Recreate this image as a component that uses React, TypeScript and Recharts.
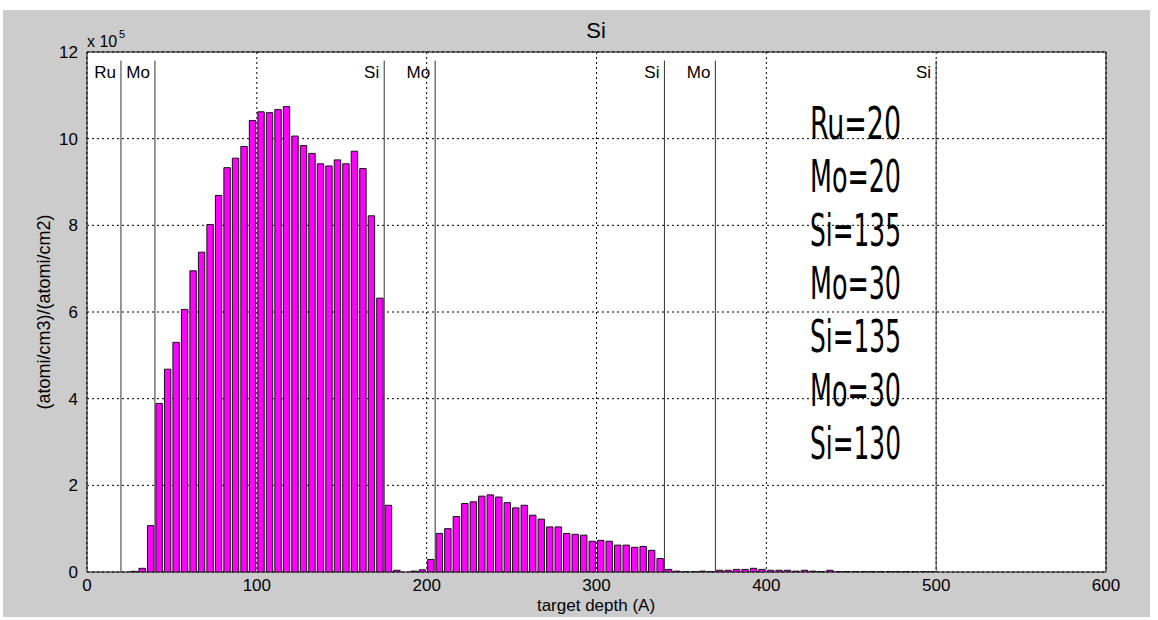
import { BarChart, Bar, XAxis, YAxis, CartesianGrid, ReferenceLine, ReferenceArea } from "recharts";

const FONT = '"Liberation Sans", Arial, sans-serif';
const BIN_WIDTH = 5; // Å per histogram bin

// Si per 5 Å bin, in units of 1e5 (atomi/cm3)/(atomi/cm2); null = empty bin
const siCounts: (number | null)[] = [
  null, null, null, null, null, 0.015, 0.085, 1.07, 3.89, 4.68,
  5.3, 6.06, 6.95, 7.38, 8.02, 8.69, 9.33, 9.55, 9.82, 10.42,
  10.62, 10.6, 10.67, 10.74, 10.06, 9.84, 9.66, 9.42, 9.37, 9.51,
  9.42, 9.71, 9.31, 8.22, 6.32, 1.54, 0.04, null, 0.02, 0.05,
  0.29, 0.89, 1.0, 1.28, 1.58, 1.62, 1.75, 1.78, 1.73, 1.6,
  1.48, 1.54, 1.31, 1.22, 1.04, 1.04, 0.89, 0.87, 0.85, 0.71,
  0.73, 0.71, 0.62, 0.62, 0.57, 0.59, 0.5, 0.31, 0.06, 0.02,
  0.005, 0.005, 0.02, 0.01, 0.04, 0.04, 0.06, 0.06, 0.085, 0.06,
  0.04, 0.04, 0.04, 0.02, 0.04, 0.02, 0.01, 0.04, 0.01, 0.01,
  0.008, 0.008, 0.008, 0.006, 0.006, 0.006, 0.005, 0.005, 0.004, 0.004,
];

const xTicks = [0, 100, 200, 300, 400, 500, 600];
const yTicks = [0, 2, 4, 6, 8, 10, 12];

// interfaces of the multilayer (Å) and the material just above each one
const layerBounds = [20, 40, 175, 205, 340, 370, 500];
const layerNames = ["Ru", "Mo", "Si", "Mo", "Si", "Mo", "Si"];

const stackLines = ["Ru=20", "Mo=20", "Si=135", "Mo=30", "Si=135", "Mo=30", "Si=130"];

const data = siCounts
  .map((v, i) => ({ depth: BIN_WIDTH * i + BIN_WIDTH / 2, si: v }))
  .filter((d) => d.si !== null);

export default function App() {
  return (
    <div style={{ position: "fixed", left: 0, top: 0, width: 1158, height: 620, background: "#fff", fontFamily: FONT }}>
      <div style={{ position: "absolute", left: 3, top: 10, width: 1147, height: 607, background: "#cccccc" }} />
      <div style={{ position: "absolute", left: 0, top: 0 }}>
        <BarChart width={1158} height={620} data={data} margin={{ top: 52, right: 52, bottom: 0, left: 0 }}>
          <CartesianGrid stroke="#000" strokeDasharray="2 3" fill="#fff" />
          <XAxis
            type="number"
            dataKey="depth"
            domain={[0, 600]}
            ticks={xTicks}
            height={48}
            tickLine={false}
            tickSize={5}
            tickMargin={2}
            axisLine={false}
            tick={{ fill: "#000", fontSize: 17, fontFamily: FONT }}
            interval={0}
            allowDataOverflow
          />
          <YAxis
            type="number"
            domain={[0, 12]}
            ticks={yTicks}
            width={87}
            tickLine={false}
            tickSize={5}
            tickMargin={4}
            axisLine={false}
            tick={{ fill: "#000", fontSize: 17, fontFamily: FONT }}
            interval={0}
            allowDataOverflow
          />
          <Bar dataKey="si" fill="#ff00ff" stroke="#111" strokeWidth={1} barSize={6.4} isAnimationActive={false} />
          {layerBounds.map((b, i) => (
            <ReferenceLine
              key={b}
              segment={[{ x: b, y: 0 }, { x: b, y: 11.8 }]}
              stroke="#333"
              strokeWidth={1}
              label={{ value: layerNames[i], position: "insideTopRight", offset: 5, fill: "#000", fontSize: 17, fontFamily: FONT }}
            />
          ))}
          <ReferenceArea x1={0} x2={600} y1={0} y2={12} fill="none" fillOpacity={0} stroke="#000" strokeWidth={1} />
        </BarChart>
      </div>
      <svg width={1158} height={620} style={{ position: "absolute", left: 0, top: 0, pointerEvents: "none" }}>
        <text x={596} y={38} textAnchor="middle" fontSize={22} fontFamily={FONT} fill="#000">Si</text>
        <text x={87} y={47} fontSize={16} fontFamily={FONT} fill="#000">x 10</text>
        <text x={119} y={38} fontSize={11} fontFamily={FONT} fill="#000">5</text>
        <text x={596} y={611} textAnchor="middle" fontSize={17} fontFamily={FONT} fill="#000">target depth (A)</text>
        <text
          x={0}
          y={0}
          transform="translate(50 312) rotate(-90)"
          textAnchor="middle"
          fontSize={18}
          fontFamily={FONT}
          fill="#000"
        >
          (atomi/cm3)/(atomi/cm2)
        </text>
        {stackLines.map((s, i) => (
          <text
            key={i}
            x={810}
            y={139 + i * 53.3}
            fontSize={44}
            fontFamily='"Liberation Sans Narrow", "DejaVu Sans Condensed", sans-serif'
            textLength={91}
            lengthAdjust="spacingAndGlyphs"
            fill="#000"
          >
            {s}
          </text>
        ))}
      </svg>
    </div>
  );
}
